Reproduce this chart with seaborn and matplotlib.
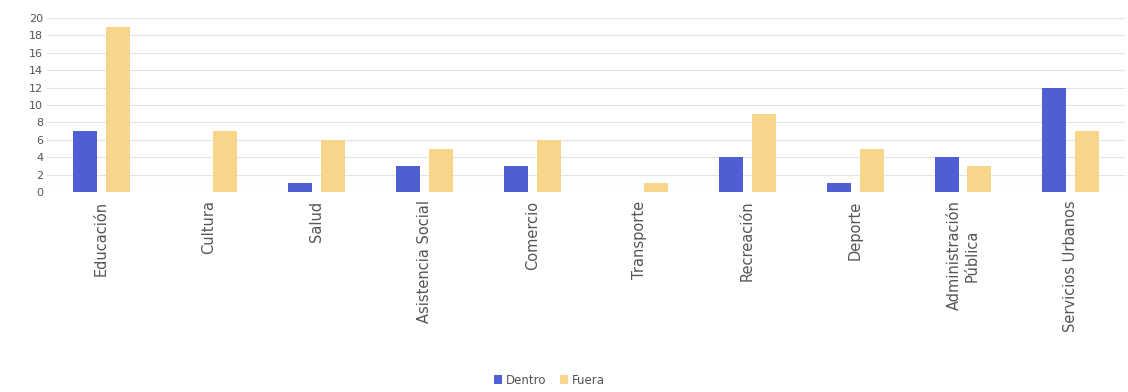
import matplotlib
matplotlib.use("Agg")
import matplotlib.pyplot as plt
import seaborn as sns
import pandas as pd

categories = ["Educación", "Cultura", "Salud", "Asistencia Social", "Comercio",
              "Transporte", "Recreación", "Deporte", "Administración\nPública",
              "Servicios Urbanos"]
dentro = [7, 0, 1, 3, 3, 0, 4, 1, 4, 12]
fuera = [19, 7, 6, 5, 6, 1, 9, 5, 3, 7]
series_names = ["Dentro", "Fuera"]
y_ticks = [0, 2, 4, 6, 8, 10, 12, 14, 16, 18, 20]

df = pd.DataFrame({
    "categoria": categories * 2,
    "valor": dentro + fuera,
    "serie": [series_names[0]] * len(categories) + [series_names[1]] * len(categories),
})

sns.set_theme(style="white")
plt.rcParams["font.family"] = ["DejaVu Sans"]

fig = plt.figure(figsize=(11.28, 3.92), dpi=100)
ax = fig.add_axes([0.042, 0.51, 0.955, 0.444])

palette = {"Dentro": "#4d5fd1", "Fuera": "#f7d58a"}
sns.barplot(data=df, x="categoria", y="valor", hue="serie", palette=palette,
            width=0.61, gap=0.27, ax=ax, saturation=1, legend=True,
            linewidth=0, edgecolor="none")

ax.set_ylim(0, 20)
ax.set_xlim(-0.5, len(categories) - 0.5)
ax.set_yticks(y_ticks)
ax.yaxis.grid(True, color="#e3e3e3", linewidth=0.8)
ax.set_axisbelow(True)
for s in ax.spines.values():
    s.set_visible(False)
ax.set_xlabel("")
ax.set_ylabel("")
ax.tick_params(axis="y", labelsize=8, labelcolor="#555555", length=0, pad=3)
ax.tick_params(axis="x", labelsize=10.5, labelcolor="#555555", length=0, pad=6)
for lab in ax.get_xticklabels():
    lab.set_rotation(90)
    lab.set_va("top")
    lab.set_ha("center")
    lab.set_multialignment("center")

handles, labels = ax.get_legend_handles_labels()
ax.get_legend().remove()
fig.legend(handles, labels, loc="center", bbox_to_anchor=(0.487, 0.03), ncol=2,
           frameon=False, fontsize=8.5, handlelength=0.7, handleheight=0.7,
           columnspacing=1.2, handletextpad=0.3, labelcolor="#555555")

fig.savefig("out.png", dpi=100)
